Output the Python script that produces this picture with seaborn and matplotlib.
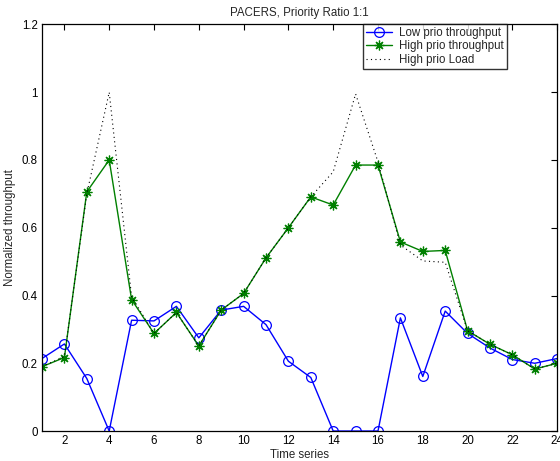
import matplotlib
matplotlib.use("Agg")
import matplotlib.pyplot as plt
import seaborn as sns
import pandas as pd

time_series = list(range(1, 25))
low_prio_throughput = [0.214, 0.257, 0.155, 0.0, 0.327, 0.325, 0.368, 0.275, 0.357, 0.368,
                       0.314, 0.206, 0.158, 0.0, 0.0, 0.0, 0.334, 0.161, 0.354, 0.288,
                       0.245, 0.211, 0.200, 0.214]
high_prio_throughput = [0.190, 0.217, 0.706, 0.800, 0.388, 0.288, 0.350, 0.251, 0.357, 0.406,
                        0.511, 0.600, 0.691, 0.667, 0.785, 0.785, 0.558, 0.530, 0.533, 0.296,
                        0.256, 0.225, 0.183, 0.200]
high_prio_load = [0.190, 0.220, 0.700, 1.000, 0.396, 0.288, 0.350, 0.251, 0.357, 0.406,
                  0.511, 0.600, 0.691, 0.765, 0.995, 0.794, 0.549, 0.502, 0.498, 0.296,
                  0.256, 0.225, 0.183, 0.200]
x_ticks = [2, 4, 6, 8, 10, 12, 14, 16, 18, 20, 22, 24]
y_ticks = [0, 0.2, 0.4, 0.6, 0.8, 1.0, 1.2]
y_tick_labels = ["0", "0.2", "0.4", "0.6", "0.8", "1", "1.2"]

df = pd.DataFrame({"t": time_series, "low": low_prio_throughput,
                   "high": high_prio_throughput, "load": high_prio_load})

sns.set_style("white")
plt.rcParams["font.family"] = ["Liberation Sans", "DejaVu Sans"]
fs = 8.3

fig = plt.figure(figsize=(5.6, 4.61), dpi=100)
ax = fig.add_axes([0.075, 0.065, 0.92, 0.882])

sns.lineplot(data=df, x="t", y="low", ax=ax, color="blue", lw=1.0, marker="o",
             markersize=7, markerfacecolor="none", markeredgecolor="blue",
             markeredgewidth=0.9, label="Low prio throughput")
sns.lineplot(data=df, x="t", y="high", ax=ax, color="#008000", lw=1.0, marker=(8, 2, 0),
             markersize=7, markeredgecolor="#008000", markeredgewidth=0.9,
             label="High prio throughput")
sns.lineplot(data=df, x="t", y="load", ax=ax, color="black", lw=0.8,
             linestyle=(0, (1, 3)), label="High prio Load")

ax.set_xlim(1, 24)
ax.set_ylim(0, 1.2)
ax.set_xticks(x_ticks)
ax.set_xticklabels([str(v) for v in x_ticks])
ax.set_yticks(y_ticks)
ax.set_yticklabels(y_tick_labels)
ax.tick_params(direction="in", length=4, width=0.8, labelsize=fs, top=True, right=True,
               colors="black", pad=3)
for s in ax.spines.values():
    s.set_visible(True)
    s.set_color("black")
    s.set_linewidth(0.9)

ax.set_title("PACERS, Priority Ratio 1:1", fontsize=fs, pad=6)
ax.set_xlabel("Time series", fontsize=fs, labelpad=1)
ax.set_ylabel("Normalized throughput", fontsize=fs, labelpad=4)

leg = ax.legend(loc="upper left", bbox_to_anchor=(0.623, 1.0), borderaxespad=0,
                fontsize=fs, frameon=True, fancybox=False, handlelength=2.3,
                borderpad=0.25, labelspacing=0.1, handletextpad=0.6)
leg.get_frame().set_edgecolor("black")
leg.get_frame().set_linewidth(1.0)

fig.savefig("out.png", dpi=100)
